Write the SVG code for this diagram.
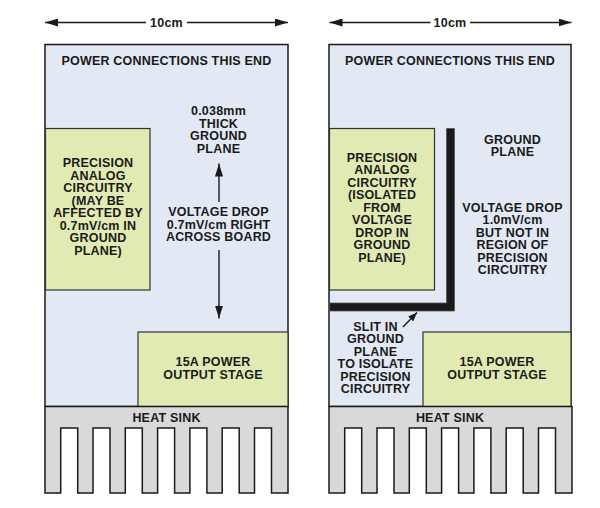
<svg xmlns="http://www.w3.org/2000/svg" width="600" height="508" viewBox="0 0 600 508">
<style>
  .t { font-family: "Liberation Sans", Arial, sans-serif; font-weight: bold; font-size: 12.5px; fill: #1a1a1a; text-anchor: middle; letter-spacing: 0.2px; }
  .board { fill: #e2e9f4; stroke: #1a1a1a; stroke-width: 1.5; }
  .box { fill: #e2eab4; stroke: #333; stroke-width: 1.2; }
  .sink { fill: #d9d9d9; stroke: #1a1a1a; stroke-width: 1.5; stroke-linejoin: miter; }
  .dim { stroke: #1a1a1a; stroke-width: 1.4; fill: none; }
</style>
<defs>
  <marker id="ah" markerUnits="userSpaceOnUse" markerWidth="14" markerHeight="8" refX="13" refY="4" orient="auto">
    <path d="M0,0 L13,4 L0,8 Z" fill="#1a1a1a"/>
  </marker>
  <marker id="ahs" markerUnits="userSpaceOnUse" markerWidth="10" markerHeight="7" refX="9" refY="3.5" orient="auto">
    <path d="M0,0 L9,3.5 L0,7 Z" fill="#1a1a1a"/>
  </marker>
  <path id="sinkshape" class="sink" d="M45,406.5 H288 V493 H271.5 V428 H254.5 V493 H239.2 V428 H222.2 V493 H206.9 V428 H189.9 V493 H174.6 V428 H157.6 V493 H142.3 V428 H125.3 V493 H110 V428 H93 V493 H77.7 V428 H60.7 V493 H45 Z"/>
</defs>
<rect width="600" height="508" fill="#ffffff"/>

<!-- LEFT PANEL -->
<g id="left-board">
  <rect class="board" x="45" y="44.5" width="243" height="362"/>
  <text class="t" x="166.5" y="64.5">POWER CONNECTIONS THIS END</text>
</g>
<g id="left-precision">
  <rect class="box" x="45.5" y="128.5" width="104.5" height="161.5"/>
  <text class="t" x="98" y="167">PRECISION</text>
  <text class="t" x="98" y="179.5">ANALOG</text>
  <text class="t" x="98" y="192">CIRCUITRY</text>
  <text class="t" x="98" y="204.5">(MAY BE</text>
  <text class="t" x="98" y="217">AFFECTED BY</text>
  <text class="t" x="98" y="229.5">0.7mV/cm IN</text>
  <text class="t" x="98" y="242">GROUND</text>
  <text class="t" x="98" y="254.5">PLANE)</text>
</g>
<g id="left-ground-label">
  <text class="t" x="218.5" y="115">0.038mm</text>
  <text class="t" x="218.5" y="127.5">THICK</text>
  <text class="t" x="218.5" y="140">GROUND</text>
  <text class="t" x="218.5" y="152.5">PLANE</text>
</g>
<g id="left-drop-label">
  <text class="t" x="218.5" y="216">VOLTAGE DROP</text>
  <text class="t" x="218.5" y="228.5">0.7mV/cm RIGHT</text>
  <text class="t" x="218.5" y="241">ACROSS BOARD</text>
</g>
<g id="left-power">
  <rect class="box" x="138" y="332" width="150" height="74.5"/>
  <text class="t" x="213" y="366">15A POWER</text>
  <text class="t" x="213" y="378.5">OUTPUT STAGE</text>
</g>
<g id="left-heatsink">
  <use href="#sinkshape"/>
  <text class="t" x="166.5" y="421.5">HEAT SINK</text>
</g>
<g id="left-dimension">
  <text class="t" x="166.5" y="26.5">10cm</text>
</g>

<!-- RIGHT PANEL -->
<g id="right-board">
  <rect class="board" x="329" y="44.5" width="242" height="362"/>
  <text class="t" x="450" y="64.5">POWER CONNECTIONS THIS END</text>
</g>
<g id="right-precision">
  <rect class="box" x="329.5" y="128.5" width="105" height="161.5"/>
  <text class="t" x="382" y="161.5">PRECISION</text>
  <text class="t" x="382" y="174">ANALOG</text>
  <text class="t" x="382" y="186.5">CIRCUITRY</text>
  <text class="t" x="382" y="199">(ISOLATED</text>
  <text class="t" x="382" y="211.5">FROM</text>
  <text class="t" x="382" y="224">VOLTAGE</text>
  <text class="t" x="382" y="236.5">DROP IN</text>
  <text class="t" x="382" y="249">GROUND</text>
  <text class="t" x="382" y="261.5">PLANE)</text>
</g>
<g id="right-slit">
  <path d="M446.5,128.5 H454.5 V311 H329.5 V303 H446.5 Z" fill="#1a1a1a" stroke="#555" stroke-width="0.8"/>
</g>
<g id="right-ground-label">
  <text class="t" x="512.5" y="143.5">GROUND</text>
  <text class="t" x="512.5" y="156">PLANE</text>
</g>
<g id="right-drop-label">
  <text class="t" x="512.5" y="211.5">VOLTAGE DROP</text>
  <text class="t" x="512.5" y="224">1.0mV/cm</text>
  <text class="t" x="512.5" y="236.5">BUT NOT IN</text>
  <text class="t" x="512.5" y="249">REGION OF</text>
  <text class="t" x="512.5" y="261.5">PRECISION</text>
  <text class="t" x="512.5" y="274">CIRCUITRY</text>
</g>
<g id="right-slit-label">
  <text class="t" x="375.5" y="330.5">SLIT IN</text>
  <text class="t" x="375.5" y="343">GROUND</text>
  <text class="t" x="375.5" y="355.5">PLANE</text>
  <text class="t" x="375.5" y="368">TO ISOLATE</text>
  <text class="t" x="375.5" y="380.5">PRECISION</text>
  <text class="t" x="375.5" y="393">CIRCUITRY</text>
</g>
<g id="right-power">
  <rect class="box" x="423" y="332" width="148" height="74.5"/>
  <text class="t" x="497" y="366">15A POWER</text>
  <text class="t" x="497" y="378.5">OUTPUT STAGE</text>
</g>
<g id="right-heatsink">
  <use href="#sinkshape" transform="translate(284,0)"/>
  <text class="t" x="450" y="421.5">HEAT SINK</text>
</g>
<g id="right-dimension">
  <text class="t" x="450" y="26.5">10cm</text>
</g>

<!-- CONNECTORS -->
<g id="connectors">
  <line class="dim" x1="146" y1="22.5" x2="45" y2="22.5" marker-end="url(#ah)"/>
  <line class="dim" x1="187" y1="22.5" x2="288" y2="22.5" marker-end="url(#ah)"/>
  <line class="dim" x1="430.5" y1="22.5" x2="329.5" y2="22.5" marker-end="url(#ah)"/>
  <line class="dim" x1="470" y1="22.5" x2="571.5" y2="22.5" marker-end="url(#ah)"/>
  <line class="dim" x1="219" y1="202" x2="219" y2="163.5" marker-end="url(#ah)"/>
  <line class="dim" x1="219" y1="250" x2="219" y2="318.5" marker-end="url(#ah)"/>
  <line class="dim" x1="403" y1="327" x2="417" y2="312.5" marker-end="url(#ahs)"/>
</g>
</svg>
